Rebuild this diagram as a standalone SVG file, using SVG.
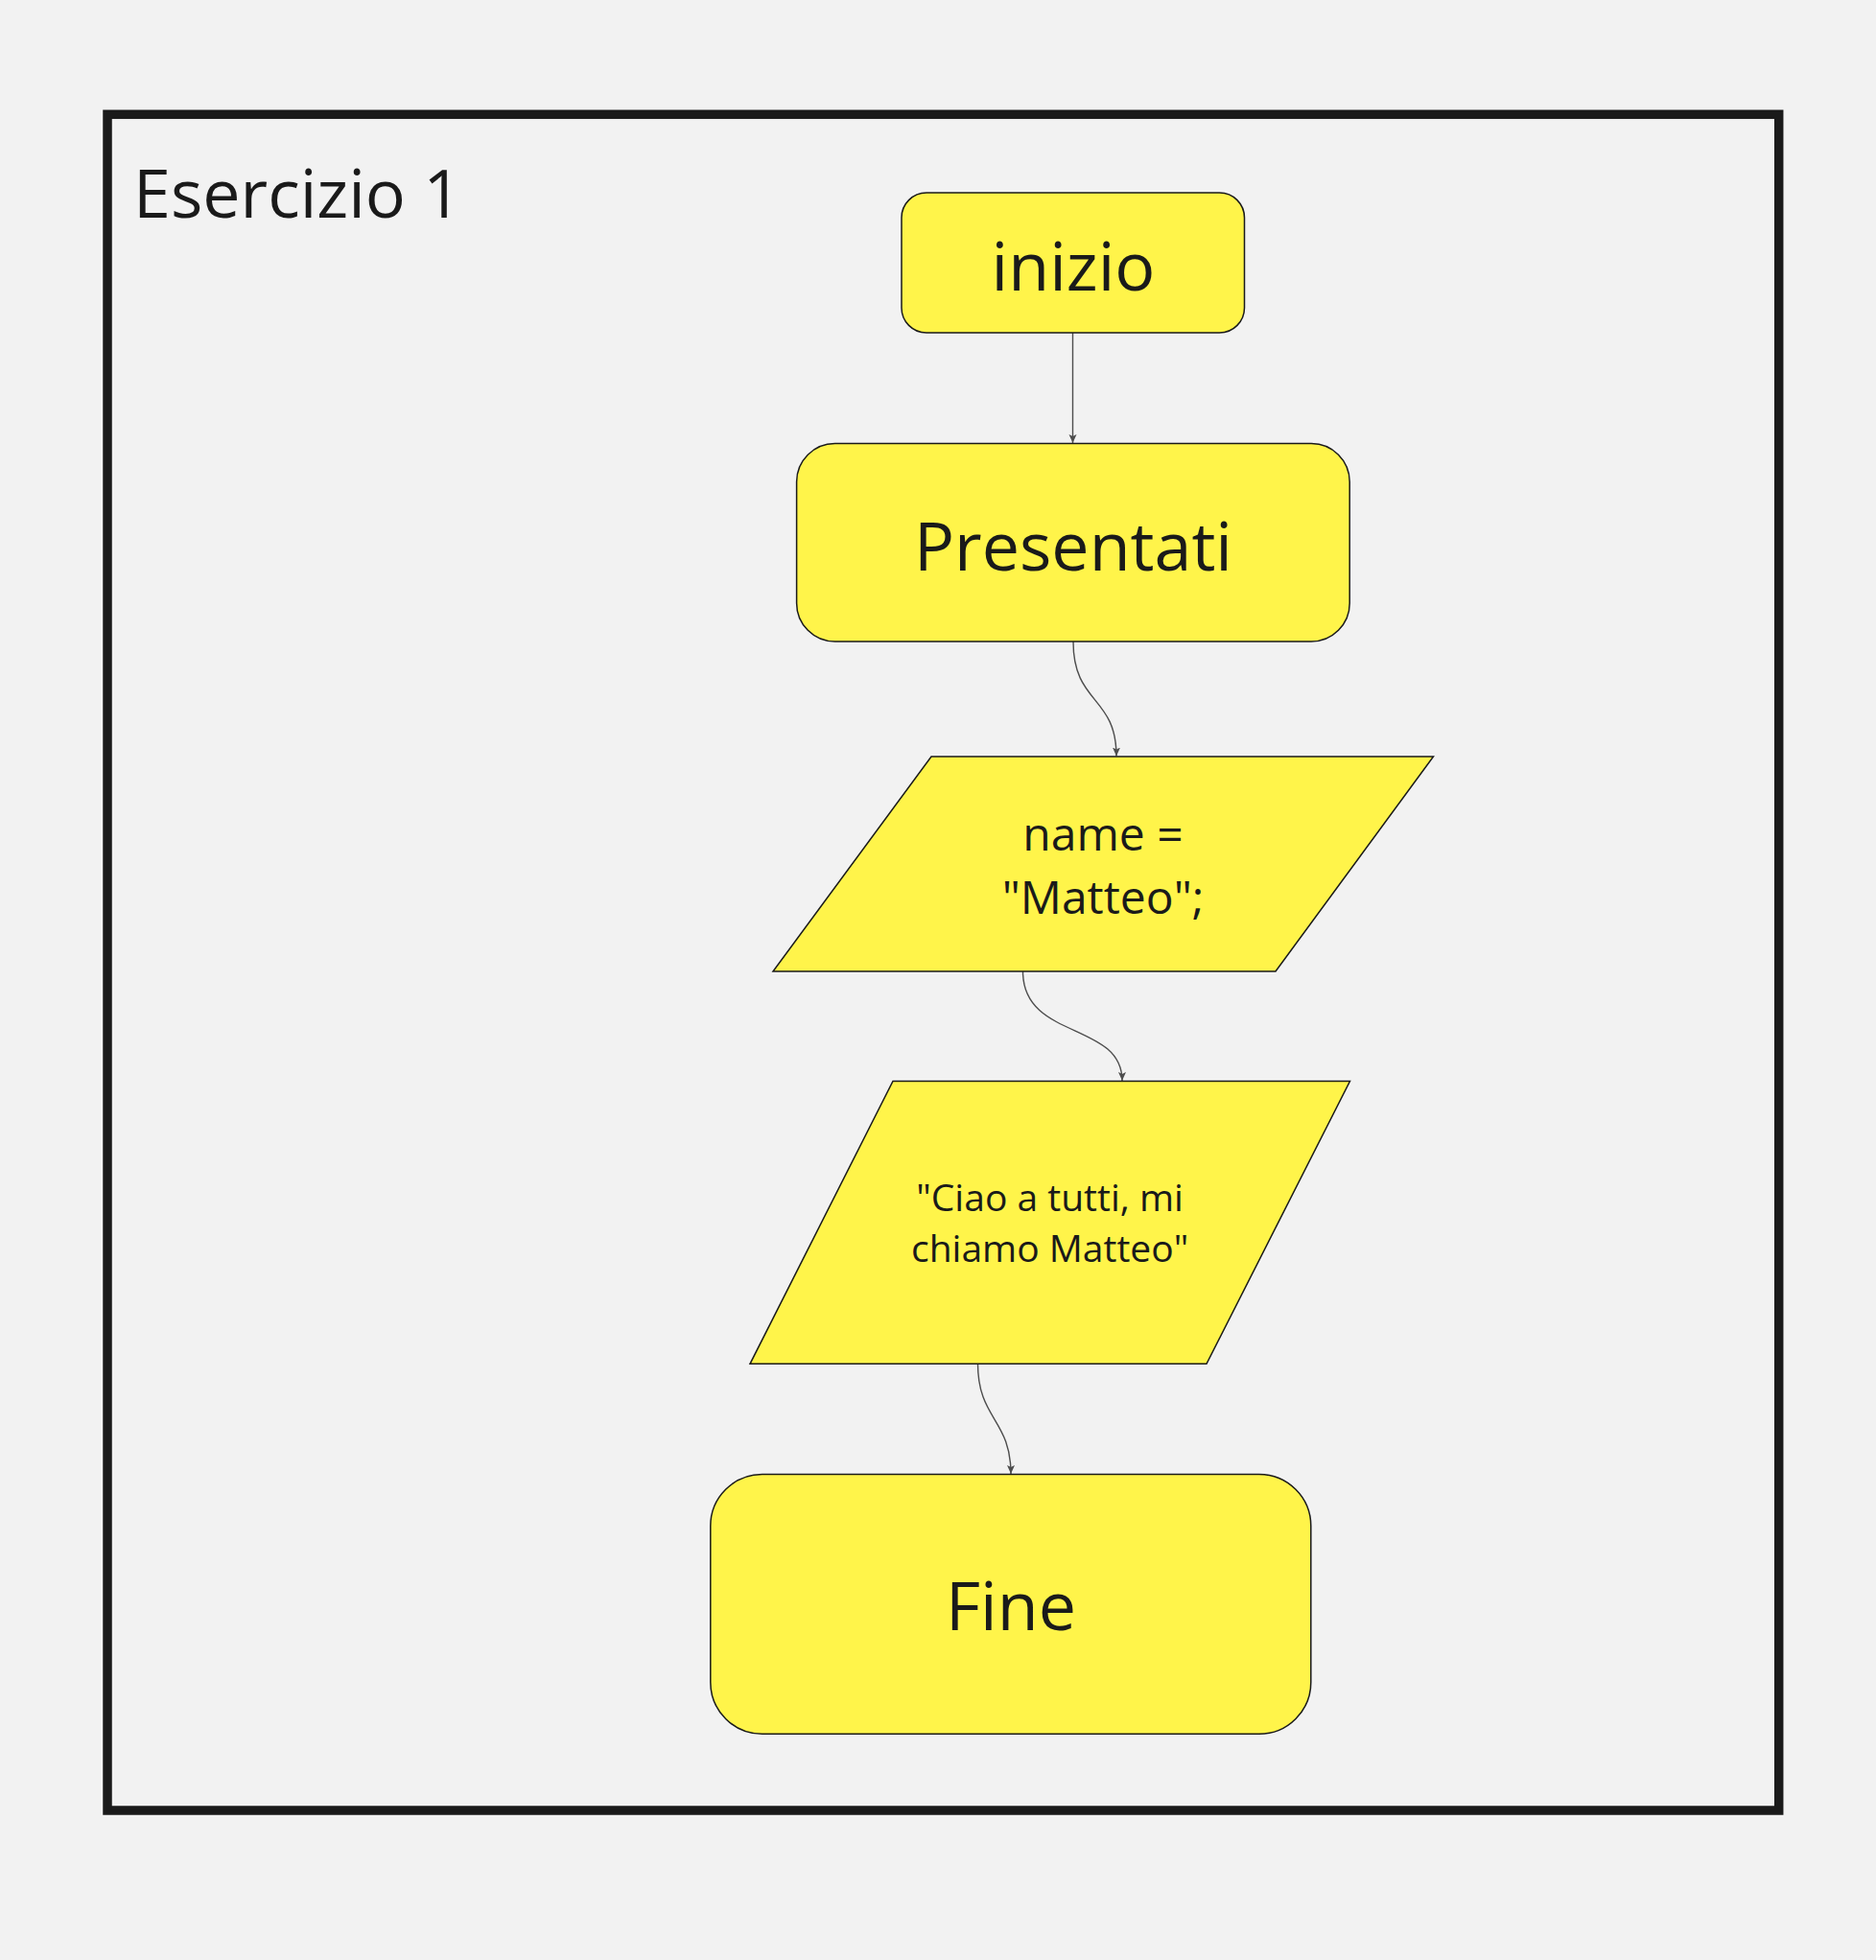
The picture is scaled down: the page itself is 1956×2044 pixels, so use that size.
<svg xmlns="http://www.w3.org/2000/svg" width="1956" height="2044" viewBox="0 0 1956 2044">
<style>
.bg{fill:#f2f2f2}
.frame{fill:none;stroke:#1a1a1a;stroke-width:9.5}
.node{fill:#fff44a;stroke:#1a1a1a;stroke-width:1.5}
.t{font-family:"Open Sans","Noto Sans","Liberation Sans",sans-serif;fill:#1a1a1a;text-anchor:middle}
.title{font-family:"Open Sans","Noto Sans","Liberation Sans",sans-serif;fill:#1a1a1a;font-size:70px}
.edge{fill:none;stroke:#4d4d4d;stroke-width:1.4}
</style>
<defs>
<marker id="arr" markerUnits="userSpaceOnUse" markerWidth="10" markerHeight="10" viewBox="0 0 10 10" refX="9" refY="5" orient="auto">
<path d="M0,1 L9,5 L0,9 L2,5 z" fill="#4d4d4d"/>
</marker>
</defs>
<rect class="bg" x="0" y="0" width="1956" height="2044"/>
<g id="frame">
<rect class="frame" x="112" y="119.3" width="1742.7" height="1768.7"/>
<text class="title" x="139" y="227">Esercizio 1</text>
</g>
<g id="connectors">
<path class="edge" d="M1118.5,347 L1118.5,462" marker-end="url(#arr)"/>
<path class="edge" d="M1119,669 C1119,735 1164,725 1164,788.5" marker-end="url(#arr)"/>
<path class="edge" d="M1066.5,1013 C1066.5,1085 1170,1065 1170,1127" marker-end="url(#arr)"/>
<path class="edge" d="M1019.5,1422 C1019.5,1480 1054,1480 1054,1537" marker-end="url(#arr)"/>
</g>
<g id="inizio">
<rect class="node" x="940" y="201" width="357.5" height="146" rx="26" ry="26"/>
<text class="t" x="1119" y="302.5" font-size="70">inizio</text>
</g>
<g id="presentati">
<rect class="node" x="830.6" y="462.5" width="576.6" height="206.5" rx="40" ry="40"/>
<text class="t" x="1119" y="595" font-size="70">Presentati</text>
</g>
<g id="name">
<polygon class="node" points="971,789 1494.5,789 1330,1013 806,1013"/>
<text class="t" x="1150" y="887.3" font-size="48">name =</text>
<text class="t" x="1150" y="953.3" font-size="48">"Matteo";</text>
</g>
<g id="output">
<polygon class="node" points="931,1127.5 1407.5,1127.5 1258,1422.3 782,1422.3"/>
<text class="t" x="1094.6" y="1263.3" font-size="39">"Ciao a tutti, mi</text>
<text class="t" x="1094.6" y="1316" font-size="39">chiamo Matteo"</text>
</g>
<g id="fine">
<rect class="node" x="740.8" y="1537.5" width="626" height="270.8" rx="54" ry="54"/>
<text class="t" x="1054" y="1700" font-size="70">Fine</text>
</g>
</svg>
